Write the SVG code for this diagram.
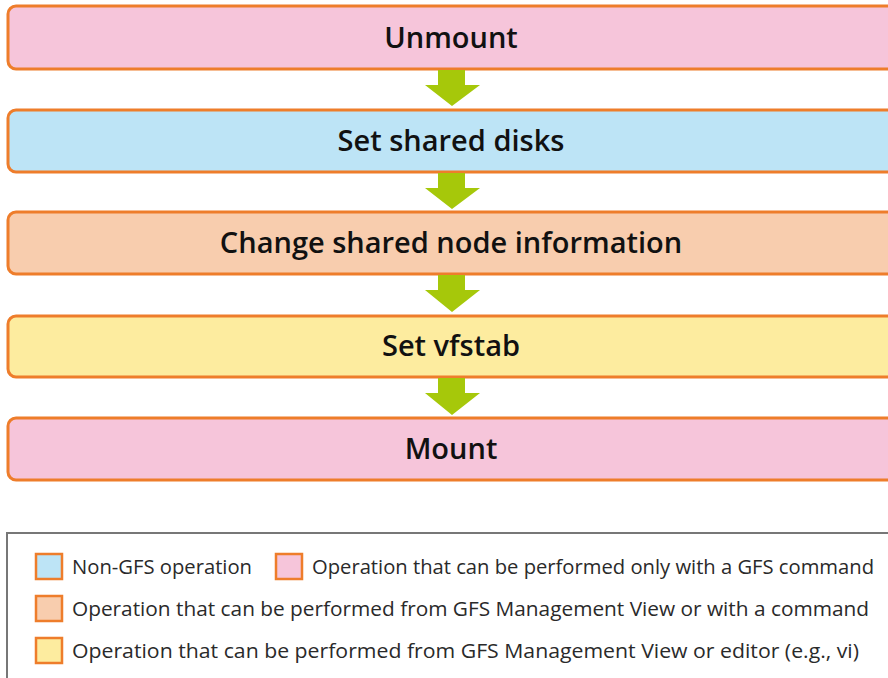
<svg xmlns="http://www.w3.org/2000/svg" width="888" height="678" viewBox="0 0 888 678">
<style>
.box{stroke:#ee7d2b;stroke-width:3}
.lbl{font-family:"Open Sans","Liberation Sans",sans-serif;font-size:29px;font-weight:600;fill:#111;text-anchor:middle}
.leg{font-family:"Open Sans","Liberation Sans",sans-serif;font-size:20.5px;fill:#2a2a2a}
.sw{stroke:#ee7d2b;stroke-width:2.5}
.arr{fill:#a6c80a}
</style>
<rect x="0" y="0" width="888" height="678" fill="#fff"/>
<g id="unmount"><rect class="box" x="8" y="6" width="900" height="63" rx="8" fill="#f6c5da"/><text class="lbl" x="451" y="48">Unmount</text></g>
<g id="set-shared-disks"><rect class="box" x="8" y="110" width="900" height="62" rx="8" fill="#bde4f6"/><text class="lbl" x="451" y="151">Set shared disks</text></g>
<g id="change-shared-node"><rect class="box" x="8" y="212" width="900" height="62" rx="8" fill="#f8cdae"/><text class="lbl" x="451" y="253">Change shared node information</text></g>
<g id="set-vfstab"><rect class="box" x="8" y="316" width="900" height="61" rx="8" fill="#fdec9f"/><text class="lbl" x="451" y="356">Set vfstab</text></g>
<g id="mount"><rect class="box" x="8" y="418" width="900" height="62" rx="8" fill="#f6c5da"/><text class="lbl" x="451" y="459">Mount</text></g>
<g id="connectors">
<polygon class="arr" points="438,70 465,70 465,85 480,85 452,106 425,85 438,85"/>
<polygon class="arr" points="438,173 465,173 465,188 480,188 452,209 425,188 438,188"/>
<polygon class="arr" points="438,275 465,275 465,290 480,290 452,312 425,290 438,290"/>
<polygon class="arr" points="438,378 465,378 465,393 480,393 452,415 425,393 438,393"/>
</g>
<g id="legend">
<rect x="7" y="533" width="900" height="160" fill="#fff" stroke="#777" stroke-width="2"/>
<rect class="sw" x="36" y="554" width="26" height="25" fill="#bde4f6"/>
<text class="leg" x="72" y="574" textLength="180" lengthAdjust="spacingAndGlyphs">Non-GFS operation</text>
<rect class="sw" x="276" y="554" width="26" height="25" fill="#f6c5da"/>
<text class="leg" x="312" y="574" textLength="562" lengthAdjust="spacingAndGlyphs">Operation that can be performed only with a GFS command</text>
<rect class="sw" x="36" y="596" width="26" height="25" fill="#f8cdae"/>
<text class="leg" x="72" y="616" textLength="797" lengthAdjust="spacingAndGlyphs">Operation that can be performed from GFS Management View or with a command</text>
<rect class="sw" x="36" y="638" width="26" height="25" fill="#fdec9f"/>
<text class="leg" x="72" y="658" textLength="787" lengthAdjust="spacingAndGlyphs">Operation that can be performed from GFS Management View or editor (e.g., vi)</text>
</g>
</svg>
